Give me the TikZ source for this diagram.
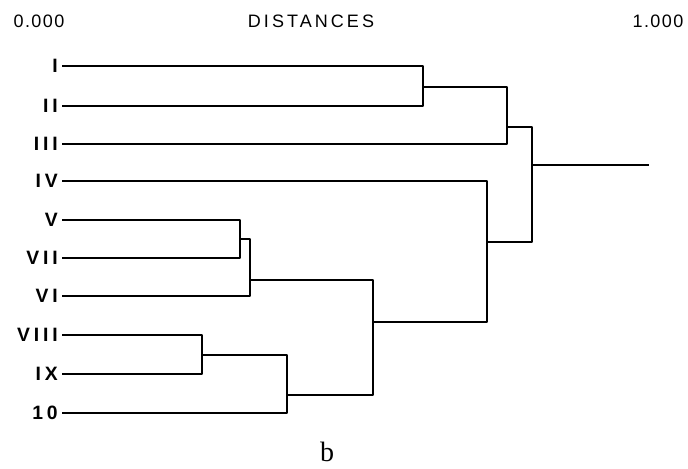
\documentclass[tikz,border=0pt]{standalone}
\usepackage{fontspec}
\setmainfont{Liberation Serif}
\newfontfamily\headfont[LetterSpace=8]{Liberation Sans}
\newfontfamily\titlefont[LetterSpace=17]{Liberation Sans}
\newfontfamily\leaffont[LetterSpace=20]{Liberation Sans}

\tikzset{
  leaf/.style={anchor=east,inner xsep=3pt,inner ysep=0pt,
    font=\leaffont\bfseries\fontsize{14.5}{14.5}\selectfont},
  head/.style={inner sep=0pt,font=\headfont\fontsize{13.5}{13.5}\selectfont},
  tree/.style={line width=2pt,line join=round}
}

\begin{document}
\begin{tikzpicture}[x=0.75pt,y=-0.75pt]
  \useasboundingbox (0,0) rectangle (688,468);
  % scale
  \node[head] (d0) at (39,21) {0.000};
  \node[head,font=\titlefont\fontsize{13.5}{13.5}\selectfont] (dist) at (311,21) {DISTANCES};
  \node[head] (d1) at (658,21) {1.000};
  % leaves
  \node[leaf] (l1) at (62,66) {I};
  \node[leaf] (l2) at (62,106) {II};
  \node[leaf] (l3) at (62,144) {III};
  \node[leaf] (l4) at (62,181) {IV};
  \node[leaf] (l5) at (62,220) {V};
  \node[leaf] (l7) at (62,258) {VII};
  \node[leaf] (l6) at (62,296) {VI};
  \node[leaf] (l8) at (62,335) {VIII};
  \node[leaf] (l9) at (62,374) {IX};
  \node[leaf] (l10) at (62,413) {10};
  % junctions
  \coordinate (m12) at (423,87);
  \coordinate (m123) at (507,127);
  \coordinate (m57) at (240,239);
  \coordinate (m576) at (250,280);
  \coordinate (m89) at (202,355);
  \coordinate (m8910) at (287,395);
  \coordinate (mlow) at (373,322);
  \coordinate (m4) at (487,242);
  \coordinate (mtop) at (532,165);
  \coordinate (root) at (649,165);
  % branches
  \draw[tree] (l1.east) -| (m12) |- (l2.east);
  \draw[tree] (m12) -| (m123) |- (l3.east);
  \draw[tree] (l5.east) -| (m57) |- (l7.east);
  \draw[tree] (m57) -| (m576) |- (l6.east);
  \draw[tree] (l8.east) -| (m89) |- (l9.east);
  \draw[tree] (m89) -| (m8910) |- (l10.east);
  \draw[tree] (m576) -| (mlow) |- (m8910);
  \draw[tree] (l4.east) -| (m4) |- (mlow);
  \draw[tree] (m123) -| (mtop) |- (m4);
  \draw[tree,line width=1.4pt] (mtop) -- (root);
  % caption
  \node[font=\fontsize{21}{21}\selectfont] (cap) at (327,452) {b};
\end{tikzpicture}
\end{document}
